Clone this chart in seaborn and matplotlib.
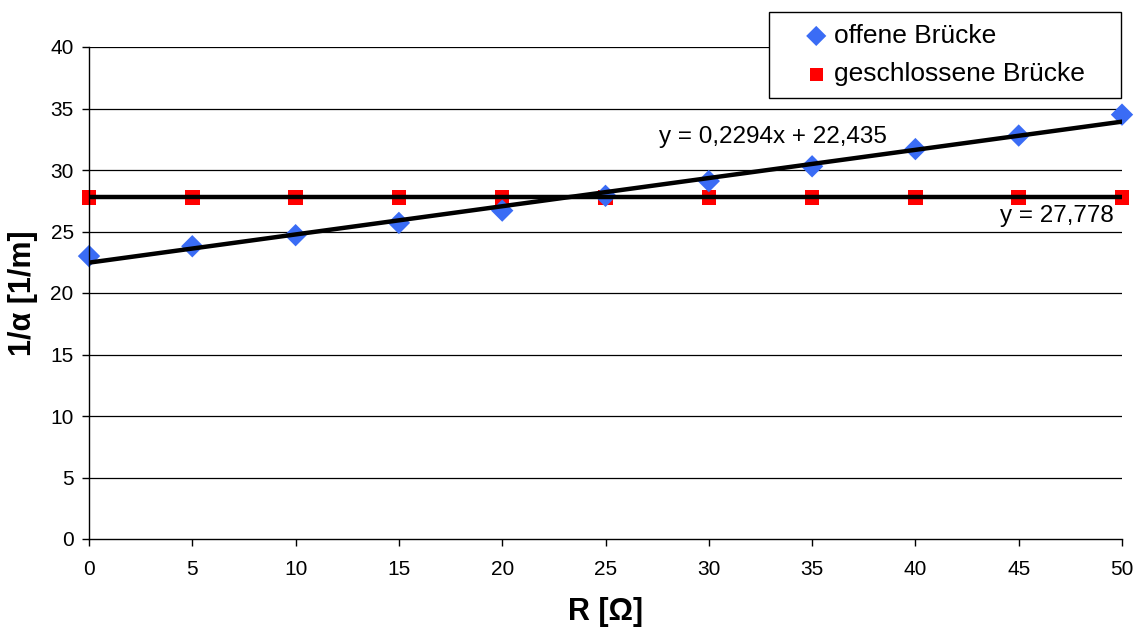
import numpy as np
import pandas as pd
import matplotlib
matplotlib.use("Agg")
import matplotlib.pyplot as plt
import seaborn as sns

# data
r_ohm = [0, 5, 10, 15, 20, 25, 30, 35, 40, 45, 50]
offen = [23.0, 23.8, 24.7, 25.7, 26.7, 27.9, 29.1, 30.3, 31.7, 32.8, 34.5]
geschlossen = [27.778] * 11
y_ticks = [0, 5, 10, 15, 20, 25, 30, 35, 40]

sns.set_style("white")
plt.rcParams['font.family'] = ['Liberation Sans', 'DejaVu Sans']
plt.rcParams['text.color'] = 'black'
plt.rcParams['axes.labelcolor'] = 'black'
plt.rcParams['xtick.color'] = 'black'
plt.rcParams['ytick.color'] = 'black'

df = pd.DataFrame({'R': r_ohm, 'offen': offen, 'geschlossen': geschlossen})

fig = plt.figure(figsize=(11.35, 6.28), dpi=100)
ax = fig.add_axes([89 / 1135, 1 - 539 / 628, (1122 - 89) / 1135, (539 - 47) / 628])

# horizontal gridlines
for yv in y_ticks[1:]:
    ax.axhline(yv, color='black', lw=0.9, zorder=0)

# linear trend lines (least squares), like the spreadsheet trendlines
k1, d1 = np.polyfit(df['R'], df['offen'], 1)
xs = np.array([min(r_ohm), max(r_ohm)])
sns.lineplot(x=xs, y=k1 * xs + d1, color='black', lw=3.2, ax=ax, zorder=3)
sns.lineplot(x=xs, y=[np.mean(geschlossen)] * 2, color='black', lw=3.2, ax=ax, zorder=3)

sns.scatterplot(data=df, x='R', y='offen', marker='D', s=130, color='#3a6cf5',
                edgecolor='none', ax=ax, zorder=2.5, label='offene Brücke', clip_on=False)
sns.scatterplot(data=df, x='R', y='geschlossen', marker='s', s=110, color='#ff0000',
                edgecolor='none', ax=ax, zorder=2, label='geschlossene Brücke', clip_on=False)

ax.text(38.6, 32.7, 'y = 0,2294x + 22,435', ha='right', va='center', fontsize=17.5)
ax.text(49.6, 26.3, 'y = 27,778', ha='right', va='center', fontsize=17.5)

ax.set_xlim(0, 50)
ax.set_ylim(0, 40)
ax.set_xticks(r_ohm)
ax.set_yticks(y_ticks)
ax.tick_params(axis='both', labelsize=15, length=5, width=1, color='black',
               direction='out', left=True, bottom=True)
ax.tick_params(axis='x', pad=10)
ax.tick_params(axis='y', pad=6)
for side in ['top', 'right']:
    ax.spines[side].set_visible(False)
for side in ['left', 'bottom']:
    ax.spines[side].set_color('black')
    ax.spines[side].set_linewidth(1)

ax.set_xlabel('R [Ω]', fontsize=22, fontweight='bold', labelpad=13)
ax.set_ylabel('1/α [1/m]', fontsize=22, fontweight='bold', labelpad=9)

leg = ax.legend(loc='upper left',
                bbox_to_anchor=(769 / 1135, 1 - 12 / 628, (1121 - 769) / 1135, 0),
                bbox_transform=fig.transFigure, mode='expand', fontsize=19, frameon=True,
                fancybox=False, framealpha=1, edgecolor='black',
                handlelength=2.68, handletextpad=-0.66, borderpad=0.45, labelspacing=0.55,
                borderaxespad=0, markerscale=0.9)
leg.get_frame().set_linewidth(1)

fig.savefig('out.png', dpi=100)
